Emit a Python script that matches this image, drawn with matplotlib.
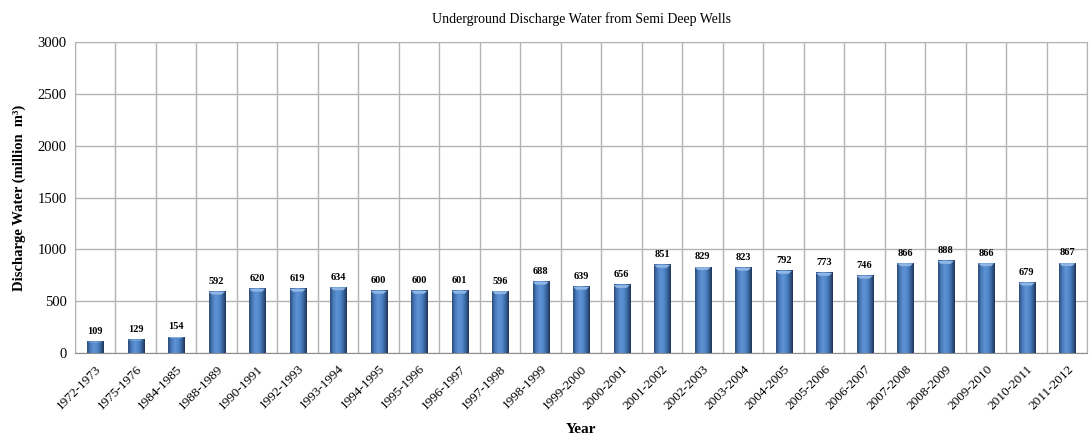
import numpy as np
import matplotlib
matplotlib.use("Agg")
import matplotlib.pyplot as plt
from matplotlib.colors import LinearSegmentedColormap

plt.rcParams["font.family"] = ["Liberation Serif", "DejaVu Serif"]

years = ["1972-1973", "1975-1976", "1984-1985", "1988-1989", "1990-1991",
         "1992-1993", "1993-1994", "1994-1995", "1995-1996", "1996-1997",
         "1997-1998", "1998-1999", "1999-2000", "2000-2001", "2001-2002",
         "2002-2003", "2003-2004", "2004-2005", "2005-2006", "2006-2007",
         "2007-2008", "2008-2009", "2009-2010", "2010-2011", "2011-2012"]
discharge = [109, 129, 154, 592, 620, 619, 634, 600, 600, 601, 596, 688, 639,
             656, 851, 829, 823, 792, 773, 746, 866, 888, 866, 679, 867]

fig = plt.figure(figsize=(10.91, 4.37), dpi=100)
ax = fig.add_axes([0.0687, 0.192, 0.928, 0.712])

x = np.arange(len(years))
width = 0.4
bars = ax.bar(x, discharge, width=width, color="#4f81bd", zorder=2)

# horizontal shading across each bar for a rounded look
shade = LinearSegmentedColormap.from_list(
    "shade", ["#2c4d7a", "#4a7cbc", "#5e92d4", "#5189cb", "#3a669f", "#1e3556"])
grad = np.linspace(0, 1, 64).reshape(1, -1)
for b in bars:
    x0, w, h = b.get_x(), b.get_width(), b.get_height()
    ax.imshow(grad, cmap=shade, extent=(x0, x0 + w, 0, h), aspect="auto",
              zorder=3, interpolation="bilinear")
    # lighter bevel on top
    cap = min(h * 0.06, 28)
    ax.fill([x0, x0 + w, x0 + w * 0.8, x0 + w * 0.2],
            [h, h, h - cap, h - cap], color="#8fb4e6", zorder=4, lw=0)
    ax.text(x0 + w / 2, h + 55, f"{h:.0f}", ha="center", va="bottom",
            fontsize=7.5, fontweight="bold", zorder=5)

ax.set_xlim(-0.5, len(years) - 0.5)
ax.set_ylim(0, 3000)
ax.set_yticks(np.arange(0, 3001, 500))
ax.set_xticks(x)
ax.set_xticklabels(years, rotation=45, ha="right", rotation_mode="anchor",
                   fontsize=9.5)
ax.tick_params(axis="y", labelsize=10.5, length=0, pad=6)
ax.tick_params(axis="x", length=0, pad=7)

# grid: horizontal at ticks, vertical at category boundaries
ax.set_xticks(np.arange(-0.5, len(years), 1), minor=True)
ax.grid(axis="y", which="major", color="#b3b3b3", lw=1, zorder=0)
ax.grid(axis="x", which="minor", color="#b3b3b3", lw=1, zorder=0)
ax.tick_params(axis="x", which="minor", length=0)
for s in ax.spines.values():
    s.set_color("#b3b3b3")
ax.spines["bottom"].set_color("#8c8c8c")

ax.set_title("Underground Discharge Water from Semi Deep Wells", fontsize=10,
             pad=14)
ax.set_ylabel("Discharge Water (million  m³)", fontsize=10.5,
              fontweight="bold", labelpad=8)
ax.set_xlabel("Year", fontsize=11, fontweight="bold", labelpad=8)

fig.savefig("out.png", dpi=100)
